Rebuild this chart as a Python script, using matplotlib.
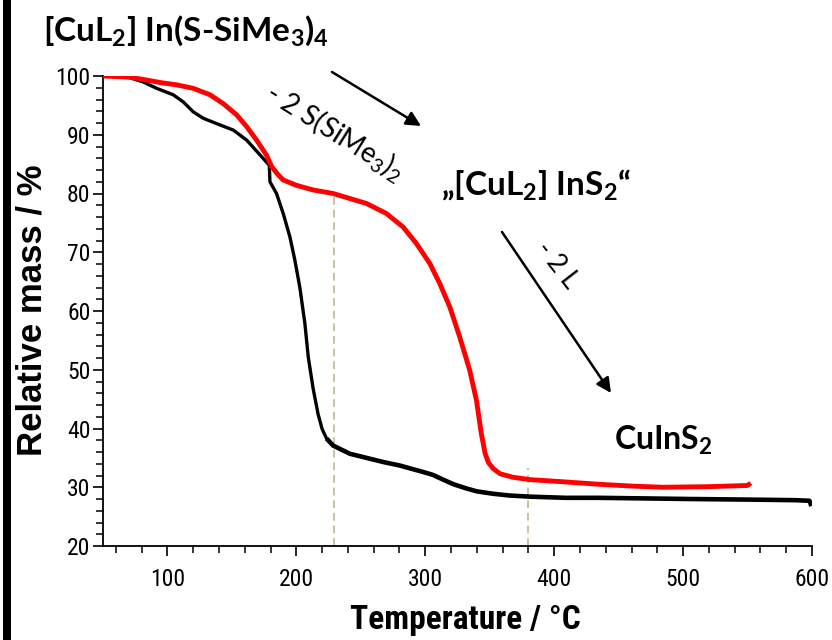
import matplotlib
matplotlib.use("Agg")
import matplotlib.pyplot as plt
import numpy as np
from matplotlib import font_manager
from matplotlib.patches import Rectangle
from matplotlib.ticker import MultipleLocator

plt.rcParams['mathtext.fontset'] = 'custom'
plt.rcParams['mathtext.rm'] = 'Lato'
plt.rcParams['mathtext.bf'] = 'Lato:bold'
plt.rcParams['mathtext.default'] = 'regular'

# TGA data (temperature in degC, relative mass in %)
black_t = [50, 60, 71, 81, 91.6, 104.5, 112.2, 120, 127.8, 138.1, 151, 161.4, 171.7,
           179, 179.5, 184.6, 189.8, 195, 198.8, 202.7, 206.6, 209.2, 213, 216.9,
           220, 223.4, 228.5, 241.5, 254.4, 267.3, 280.2, 298.3, 306, 313.8, 322,
           331.9, 340, 352.3, 365, 381, 409, 435, 505, 550, 587, 598, 599.5]
black_m = [100, 100, 99.7, 99.0, 97.9, 96.8, 95.6, 93.9, 92.8, 91.9, 90.8, 89.1, 86.6,
           84.8, 82.0, 80.0, 76.6, 72.6, 68.7, 64.0, 57.9, 52.2, 46.8, 42.4,
           39.9, 38.3, 37.1, 35.7, 35.0, 34.3, 33.7, 32.6, 32.1, 31.3, 30.5,
           29.8, 29.3, 28.9, 28.6, 28.4, 28.2, 28.2, 28.0, 27.9, 27.8, 27.7, 26.8]

red_t = [50, 71, 84, 96.8, 107, 120, 133, 143.3, 153.6, 161.4, 169.1, 176.9, 180.8,
         185, 189.8, 200, 213, 228.5, 254.4, 269.8, 282.8, 293.1, 303.5, 311.2, 319,
         326.7, 334.5, 339.7, 343.5, 346.5, 349, 352.6, 358, 368, 381, 409, 435, 460,
         484, 520, 550, 552.5]
red_m = [100, 99.8, 99.3, 98.8, 98.5, 97.9, 96.8, 95.3, 93.4, 91.4, 89.1, 86.5, 84.6,
         83.4, 82.3, 81.4, 80.6, 80.0, 78.3, 76.6, 74.3, 71.5, 68.1, 64.7, 60.7,
         55.6, 49.9, 44.8, 39.1, 35.7, 34.2, 33.2, 32.3, 31.7, 31.3, 30.9, 30.5, 30.2,
         30.0, 30.1, 30.3, 30.7]

guide_t = [229, 380]
guide_top = [80.2, 33.3]

# pick a narrow sans for the axis numbers if one is installed
fonts = font_manager.fontManager.ttflist
names = {f.name for f in fonts}
narrow, stretch = None, 'normal'
for cand in ['Liberation Sans Narrow', 'Roboto Condensed', 'Open Sans Condensed',
             'Noto Sans Condensed', 'Arial Narrow']:
    if cand in names:
        narrow = cand
        break
if narrow is None:
    for f in fonts:
        if f.stretch in ('condensed', 'semi-condensed') and f.name in ('DejaVu Sans', 'Roboto', 'Open Sans', 'Noto Sans'):
            narrow, stretch = f.name, 'condensed'
            break
if narrow is None:
    narrow_family, tick_size, xlab_size = 'Liberation Sans', 15, 20
else:
    narrow_family, tick_size, xlab_size = narrow, 17, 24

W, H = 832, 640
fig = plt.figure(figsize=(W / 100, H / 100), dpi=100)
ax = fig.add_axes([103 / W, 1 - 546 / H, (812 - 103) / W, (546 - 76) / H])


def fx(px):
    return px / W


def fy(py):
    return 1 - py / H


# guide lines
for t, top in zip(guide_t, guide_top):
    ax.plot([t, t], [20, top], color='#cbc19f', lw=1.4, ls=(0, (4, 2.5)), zorder=1)

bt = np.array(black_t)
bm = np.array(black_m)
ax.plot(bt[bt <= 235], bm[bt <= 235], color='black', lw=2.4, solid_joinstyle='round', zorder=2)
ax.plot(bt[bt >= 223], bm[bt >= 223], color='black', lw=3.3, solid_joinstyle='round',
        solid_capstyle='butt', zorder=2)
ax.plot(red_t, red_m, color='#ff0000', lw=3.5, solid_joinstyle='round',
        solid_capstyle='butt', zorder=3)

ax.set_xlim(50, 600)
ax.set_ylim(20, 100)
ax.spines['top'].set_visible(False)
ax.spines['right'].set_visible(False)
for s in ['left', 'bottom']:
    ax.spines[s].set_linewidth(1.3)
ax.xaxis.set_major_locator(MultipleLocator(100))
ax.xaxis.set_minor_locator(MultipleLocator(20))
ax.yaxis.set_major_locator(MultipleLocator(10))
ax.yaxis.set_minor_locator(MultipleLocator(2))
ax.tick_params(axis='both', which='major', direction='out', length=7, width=1.2, labelsize=tick_size)
ax.tick_params(axis='both', which='minor', direction='out', length=5, width=1.1)
ax.tick_params(axis='x', which='major', pad=9)
ax.tick_params(axis='y', which='major', pad=2)
for lab in ax.get_xticklabels() + ax.get_yticklabels():
    lab.set_fontfamily(narrow_family)
    lab.set_fontstretch(stretch)

# axis labels
fig.text(fx(465), fy(620), 'Temperature / °C', ha='center', va='center',
         fontsize=xlab_size, fontweight='bold', family=narrow_family, fontstretch=stretch)
fig.text(fx(32), fy(310), 'Relative mass / %', ha='center', va='center',
         rotation=90, fontsize=25, fontweight='bold', family='Liberation Sans')

# annotations
fig.text(fx(186), fy(31), r'[CuL$_\mathbf{2}$] In(S-SiMe$_\mathbf{3}$)$_\mathbf{4}$',
         ha='center', va='center', fontsize=24, fontweight='bold', family='Lato')
fig.text(fx(536), fy(185), r'„[CuL$_\mathbf{2}$] InS$_\mathbf{2}$“',
         ha='center', va='center', fontsize=24, fontweight='bold', family='Lato')
fig.text(fx(663), fy(440), r'CuInS$_\mathbf{2}$',
         ha='center', va='center', fontsize=23, fontweight='bold', family='Lato')
fig.text(fx(335), fy(132), r'- 2 S(SiMe$_3$)$_2$', ha='center', va='center',
         rotation=-32, rotation_mode='anchor', fontsize=20, family='Lato')
fig.text(fx(557), fy(265), '- 2 L', ha='center', va='center',
         rotation=-52, rotation_mode='anchor', fontsize=19, family='Lato')

ax.annotate('', xy=(fx(421), fy(126)), xytext=(fx(332), fy(72)),
            xycoords='figure fraction', textcoords='figure fraction',
            arrowprops=dict(arrowstyle='-|>', lw=1.8, color='black', mutation_scale=22,
                            shrinkA=0, shrinkB=0))
ax.annotate('', xy=(fx(611), fy(393)), xytext=(fx(502), fy(232)),
            xycoords='figure fraction', textcoords='figure fraction',
            arrowprops=dict(arrowstyle='-|>', lw=1.8, color='black', mutation_scale=22,
                            shrinkA=0, shrinkB=0))

# thick frame bar on the left edge
fig.add_artist(Rectangle((fx(3), 0), fx(8), 1, transform=fig.transFigure,
                         color='black', lw=0))

fig.savefig('out.png', dpi=100)
